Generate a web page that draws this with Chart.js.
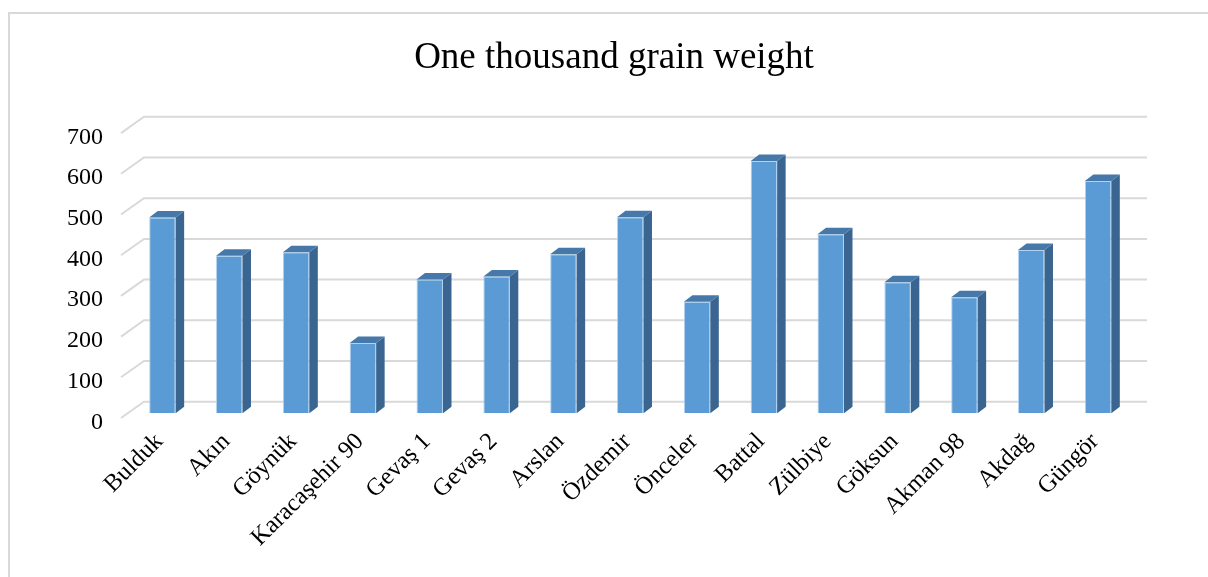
<!DOCTYPE html>
<html>
<head>
<meta charset="utf-8">
<script src="https://cdn.jsdelivr.net/npm/chart.js@4/dist/chart.umd.min.js"></script>
<style>
  html, body { margin: 0; padding: 0; background: #fff; }
  #wrap { width: 1208px; height: 577px; position: relative; }
</style>
</head>
<body>
<div id="wrap"><canvas id="myChart" width="1208" height="577"></canvas></div>
<script>
var categories = ["Bulduk", "Akın", "Göynük", "Karacaşehir 90", "Gevaş 1", "Gevaş 2", "Arslan",
  "Özdemir", "Önceler", "Battal", "Zülbiye", "Göksun", "Akman 98", "Akdağ", "Güngör"];
var grainWeight = [481, 387, 396, 173, 329, 336, 391, 482, 274, 620, 440, 322, 285, 401, 571];
var yMax = 700;
var yStep = 100;
var chartTitle = "One thousand grain weight";

// 3d look: bar depth and the offsets of the wall gridlines
var BAR_DX = 8.5, BAR_DY = 6.5;

var depth = {
  id: "depth",
  beforeDraw: function (chart) {
    var ctx = chart.ctx;
    ctx.save();
    // outer frame
    ctx.strokeStyle = "#d9d9d9";
    ctx.lineWidth = 2;
    ctx.beginPath();
    ctx.moveTo(9, 600);
    ctx.lineTo(9, 13);
    ctx.lineTo(1208, 13);
    ctx.stroke();
    // title
    ctx.fillStyle = "#000";
    ctx.font = "37px 'Liberation Serif'";
    ctx.textAlign = "center";
    ctx.textBaseline = "alphabetic";
    ctx.fillText(chartTitle, 614, 68);
    ctx.restore();
  },
  beforeDatasetsDraw: function (chart) {
    var ctx = chart.ctx, a = chart.chartArea, y = chart.scales.y;
    ctx.save();
    ctx.strokeStyle = "#d9d9d9";
    ctx.lineWidth = 2;
    y.ticks.forEach(function (t) {
      var py = y.getPixelForValue(t.value);
      ctx.beginPath();
      ctx.moveTo(a.left - 8, py + 4.7);
      ctx.lineTo(a.left + 15, py - 11.6);
      ctx.lineTo(a.right + 15.5, py - 11.6);
      ctx.stroke();
    });
    ctx.restore();
  },
  afterDatasetsDraw: function (chart) {
    var ctx = chart.ctx;
    ctx.save();
    chart.getDatasetMeta(0).data.forEach(function (bar) {
      var p = bar.getProps(["x", "y", "base", "width"], true);
      var l = p.x - p.width / 2, r = p.x + p.width / 2;
      // side
      ctx.fillStyle = "#3a6590";
      ctx.beginPath();
      ctx.moveTo(r, p.y);
      ctx.lineTo(r + BAR_DX, p.y - BAR_DY);
      ctx.lineTo(r + BAR_DX, p.base - BAR_DY);
      ctx.lineTo(r, p.base);
      ctx.closePath();
      ctx.fill();
      // top
      ctx.fillStyle = "#4678a9";
      ctx.beginPath();
      ctx.moveTo(l, p.y);
      ctx.lineTo(l + BAR_DX, p.y - BAR_DY);
      ctx.lineTo(r + BAR_DX, p.y - BAR_DY);
      ctx.lineTo(r, p.y);
      ctx.closePath();
      ctx.fill();
    });
    ctx.restore();
  }
};

var ctx = document.getElementById("myChart").getContext("2d");

var chart = new Chart(ctx, {
  type: "bar",
  data: {
    labels: categories,
    datasets: [
      {
        label: chartTitle,
        data: grainWeight,
        backgroundColor: "#5b9bd5",
        borderColor: "rgba(170,205,240,0.9)",
        borderWidth: 1,
        categoryPercentage: 1,
        barPercentage: 0.396,
      },
    ],
  },
  options: {
    responsive: false,
    animation: false,
    layout: { padding: { left: 0, right: 76.5, top: 128.4, bottom: 0 } },
    plugins: {
      legend: { display: false },
      tooltip: { enabled: false },
      title: { display: false },
    },
    scales: {
      x: {
        grid: { display: false },
        border: { display: false },
        ticks: {
          color: "#000",
          font: { family: "Liberation Serif", size: 24.5 },
          minRotation: 45,
          maxRotation: 45,
          padding: 6,
          labelOffset: -3,
          autoSkip: false,
        },
        afterFit: function (s) { s.height = 163.7; },
      },
      y: {
        min: 0,
        max: yMax,
        grid: { display: false },
        border: { display: false },
        ticks: {
          stepSize: yStep,
          color: "#000",
          font: { family: "Liberation Serif", size: 24 },
          padding: 18,
          labelOffset: 9,
        },
        afterFit: function (s) { s.width = 129; },
      },
    },
  },
  plugins: [depth],
});
</script>
</body>
</html>
